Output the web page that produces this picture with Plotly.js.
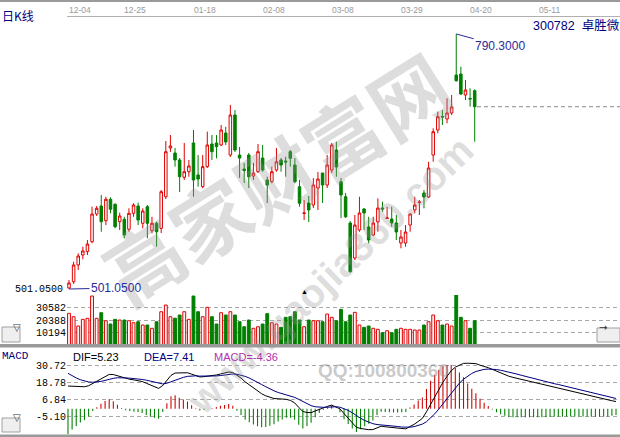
<!DOCTYPE html>
<html><head><meta charset="utf-8">
<script src="https://cdn.plot.ly/plotly-3.0.1.min.js"></script>
<style>html,body{margin:0;padding:0;background:#fff}#chart{width:620px;height:437px}</style>
</head><body><div id="chart"></div>
<script>
// ---- Daily K-line data (index = trading day) ----
const opens=[502.2,509.3,528.3,539.6,543.4,554.7,586.1,595.2,578.5,602.8,
597.1,577.4,580.1,568.8,586.9,595.2,575.6,594.4,567.2,575.6,
569.9,605.7,661.0,655.3,647.4,627.8,634.1,666.7,630.4,617.1,
639.8,665.5,666.7,664.4,678.0,653.0,698.4,653.0,637.2,653.0,
629.2,634.1,649.6,624.7,622.8,636.0,647.4,646.2,656.8,641.7,
617.1,586.7,598.6,596.3,615.6,632.6,619.0,636.0,658.7,622.8,
605.7,575.9,536.2,568.0,591.8,571.4,562.3,577.1,592.9,581.0,
580.4,575.9,553.2,553.2,573.6,590.7,599.2,609.9,605.4,653.0,
681.4,696.7,693.9,700.7,743.8,744.9,721.1,717.1,726.0];
const highs=[511.3,532.0,541.5,549.0,556.6,594.4,595.2,607.7,605.7,605.0,
598.3,587.6,583.0,592.6,598.3,599.0,592.6,596.3,583.0,577.4,
613.3,668.9,675.7,661.0,649.6,666.7,647.4,681.4,653.0,653.0,
679.5,675.7,675.7,687.1,685.1,709.8,704.1,662.1,644.0,655.3,
644.0,665.5,664.4,628.4,639.8,661.0,649.6,651.1,658.7,649.6,
624.7,602.0,606.5,626.9,633.8,632.6,653.0,666.7,668.1,626.9,
609.9,578.2,585.0,605.7,592.9,583.0,583.0,603.9,600.1,594.4,
594.4,585.0,568.0,573.6,586.9,605.7,602.0,613.3,645.4,683.3,
702.2,704.1,717.4,721.1,790.3,753.2,738.1,728.7,727.6];
const lows=[501.05,506.7,522.6,534.7,539.6,552.9,583.9,566.0,573.6,586.9,
569.9,568.0,558.6,566.0,583.0,573.6,569.9,558.6,564.2,549.0,
564.6,603.1,656.5,639.8,611.1,624.7,628.4,605.7,617.1,615.3,
638.3,647.4,649.3,663.3,664.4,650.8,656.5,627.0,621.3,615.6,
624.7,632.6,634.1,598.6,620.9,634.1,634.1,628.4,639.8,620.9,
594.4,579.3,577.1,592.9,590.7,598.6,615.6,632.6,628.4,581.6,
581.6,519.5,533.9,566.0,568.0,552.9,561.2,566.0,588.7,580.4,
571.7,556.6,547.2,549.0,566.0,586.9,585.0,592.6,604.3,645.4,
677.7,687.1,689.0,698.4,736.2,721.1,715.4,707.8,668.1];
const closes=[507.9,528.3,538.5,544.2,552.1,586.1,592.6,577.4,602.8,591.5,
571.7,583.9,562.3,586.9,596.3,579.3,589.5,575.6,575.6,566.0,
611.4,656.8,663.3,647.4,628.4,634.1,640.6,624.7,625.8,639.8,
664.4,656.8,662.5,681.4,667.8,698.4,658.7,649.6,635.5,628.4,
632.6,656.8,636.0,619.0,634.1,645.4,641.7,645.1,649.3,622.8,
598.3,587.3,590.7,619.0,625.8,619.0,641.7,664.4,639.4,607.7,
583.0,520.7,573.6,587.3,587.3,556.6,575.9,592.9,591.8,581.6,
575.9,565.7,560.0,565.7,586.1,596.3,599.7,605.4,638.3,679.5,
696.5,696.1,700.7,707.5,737.3,722.2,726.8,716.6,707.8];
const volumes=[26070,23230,15460,21050,21890,40530,21890,26570,19890,17130,
21050,20470,20470,19890,18220,19050,16290,16290,13540,19050,
27410,33010,23230,22000,24650,27410,21000,40530,27410,23230,
31080,23230,17130,26570,24650,27410,24650,19050,14870,20470,
13540,14870,17130,25800,18220,17130,14370,22730,23230,27410,
20470,14870,20470,19890,19890,19050,25490,22730,19890,29410,
19050,24650,26900,16290,14370,15460,13540,12700,9860,11530,
9860,12700,13540,12700,12700,12120,12120,16290,19050,24650,
19890,16290,17130,15460,41360,22730,19890,13540,19890];
const volTicks=[10194,20388,30582,40776];
const dateLabels=['12-04','12-25','01-18','02-08','03-08','03-29','04-20','05-11'];
const dateLabelIdx=[0,12,27,42,57,72,87,102];
const stockName='300782  卓胜微';

// ---- MACD panel data ----
const dif=[16.3,16.2,16.0,15.9,15.8,16.5,18.2,19.8,21.4,23.1,
24.6,24.5,23.7,22.6,21.6,21.1,20.7,20.3,19.5,18.3,
17.0,15.8,14.6,16.7,20.3,23.9,25.6,25.7,25.8,25.8,
24.8,23.8,22.8,23.0,23.3,23.5,24.2,24.9,25.6,26.3,
26.0,24.0,22.0,19.3,17.2,15.0,12.8,10.8,9.3,8.2,
7.4,7.2,7.0,6.8,6.0,4.3,1.1,-1.9,-2.6,-2.7,
-1.5,-0.3,0.8,1.8,2.7,1.5,0.0,-3.4,-6.5,-9.8,
-13.2,-14.0,-14.5,-14.9,-14.8,-13.4,-12.4,-12.8,-13.2,-13.6,
-13.9,-14.2,-14.3,-12.6,-11.1,-9.0,-6.8,-2.1,3.3,8.6,
13.9,19.0,23.3,27.2,29.8,31.4,32.5,32.6,32.5,32.3,
31.2,30.4,29.4,28.2,26.9,25.7,24.5,23.3,22.5,21.8,
21.0,20.2,19.5,18.7,18.0,17.2,16.5,15.9,15.2,14.6,
13.9,13.3,12.6,12.0,11.3,10.6,9.9,9.2,8.5,7.8,
7.1,6.5,5.8,5.23];
const dea=[25.4,23.6,22.1,20.8,19.8,19.2,19.0,19.2,19.6,20.3,
21.2,21.8,22.2,22.3,22.1,21.9,21.7,21.4,21.0,20.5,
19.8,19.0,18.1,17.8,18.3,19.4,20.7,21.7,22.5,23.2,
23.5,23.6,23.4,23.3,23.3,23.3,23.5,23.8,24.2,24.6,
24.9,24.7,24.2,23.2,22.0,20.6,19.0,17.4,15.8,14.2,
12.9,11.7,10.8,10.0,9.2,8.2,6.8,5.1,3.5,2.3,
1.5,1.2,1.1,1.2,1.5,1.5,1.2,0.3,-1.1,-2.8,
-4.9,-6.7,-8.3,-9.6,-10.6,-11.2,-11.4,-11.7,-12.0,-12.3,
-12.6,-13.0,-13.2,-13.1,-12.7,-12.0,-10.9,-9.2,-6.7,-3.6,
-0.1,3.7,7.6,11.5,15.2,18.4,21.2,23.5,25.3,26.7,
27.6,28.2,28.4,28.4,28.1,27.6,27.0,26.2,25.5,24.8,
24.0,23.2,22.5,21.7,21.0,20.2,19.5,18.8,18.0,17.4,
16.7,16.0,15.3,14.7,14.0,13.3,12.6,12.0,11.3,10.6,
9.9,9.2,8.3,7.41];
const macdHist=[-18.2,-14.8,-12.2,-9.8,-8.0,-5.4,-1.6,1.2,3.6,5.6,
6.8,5.4,3.0,0.6,-1.0,-1.6,-2.0,-2.2,-3.0,-4.4,
-5.6,-6.4,-7.0,-2.2,4.0,9.0,9.8,8.0,6.6,5.2,
2.6,0.4,-1.2,-0.6,0.1,0.4,1.4,2.2,2.8,3.4,
2.2,-1.4,-4.4,-7.8,-9.6,-11.2,-12.4,-13.2,-13.0,-12.0,
-11.0,-9.0,-7.6,-6.4,-6.4,-7.8,-11.4,-14.0,-12.2,-10.0,
-6.0,-3.0,-0.6,1.2,2.4,0.0,-2.4,-7.4,-10.8,-14.0,
-16.6,-14.6,-12.4,-10.6,-8.4,-4.4,-2.0,-2.2,-2.4,-2.6,
-2.6,-2.4,-2.2,1.0,3.2,6.0,8.2,14.2,20.0,24.4,
28.0,30.6,31.4,31.4,29.2,26.0,22.6,18.2,14.4,11.2,
7.2,4.4,2.0,-0.4,-2.4,-3.8,-5.0,-5.8,-6.0,-6.0,
-6.0,-6.0,-6.0,-6.0,-6.0,-6.0,-6.0,-5.8,-5.6,-5.6,
-5.6,-5.4,-5.4,-5.4,-5.4,-5.4,-5.4,-5.6,-5.6,-5.6,
-5.6,-5.4,-5.0,-4.36];
const macdTicks=[-5.10,6.84,18.78,30.72];
const macdLabels={dif:'DIF=5.23',dea:'DEA=7.41',macd:'MACD=-4.36'};

// ---- build ----
const RED='#e00000', GREEN='#007f00', NAVY='#000080';
const idx=opens.map((_,i)=>i);
const jdx=dif.map((_,j)=>j);
const up=closes.map((c,i)=>c>=opens[i]);
const W=620,H=437;
const px=v=>v/W, py=v=>1-v/H;
const MONO='Liberation Mono, DejaVu Sans Mono, monospace';
const SANS='Liberation Sans, Arial, sans-serif';
const CJK='Noto Sans CJK SC, sans-serif';
const WM='rgba(150,150,150,0.32)';

const traces=[
 {type:'candlestick',x:idx,open:opens,high:highs,low:lows,close:closes,xaxis:'x',yaxis:'y',
  increasing:{line:{color:RED,width:1},fillcolor:'#ffffff'},
  decreasing:{line:{color:GREEN,width:1},fillcolor:GREEN},whiskerwidth:0,hoverinfo:'skip'},
 {type:'bar',x:idx,y:volumes,xaxis:'x',yaxis:'y2',width:0.62,
  marker:{color:up.map(u=>u?'#fff4f4':GREEN),line:{color:up.map(u=>u?RED:GREEN),width:1}},hoverinfo:'skip'},
 {type:'bar',x:jdx,y:macdHist,xaxis:'x2',yaxis:'y3',width:0.26,
  marker:{color:macdHist.map(v=>v>=0?'#cc0000':'#007f00'),line:{width:0}},hoverinfo:'skip'},
 {type:'scatter',mode:'lines',x:jdx,y:dif,xaxis:'x2',yaxis:'y3',line:{color:'#000000',width:1},hoverinfo:'skip'},
 {type:'scatter',mode:'lines',x:jdx,y:dea,xaxis:'x2',yaxis:'y3',line:{color:NAVY,width:1},hoverinfo:'skip'}
];

const iMax=highs.indexOf(Math.max(...highs));
const iMin=lows.indexOf(Math.min(...lows));
const lastClose=closes[closes.length-1];

const ann=[];
// watermark
ann.push({xref:'paper',yref:'paper',x:px(275),y:py(176),text:'<b>高家财富网</b>',showarrow:false,textangle:-32,
  font:{family:CJK,size:78,color:WM}});
ann.push({xref:'paper',yref:'paper',x:px(330),y:py(275),text:'<b>www.gaojia360.com</b>',showarrow:false,textangle:-44,
  font:{family:SANS,size:40,color:WM}});
ann.push({xref:'paper',yref:'paper',x:px(451),y:py(383),text:'<b>QQ:100800360</b>',showarrow:false,
  font:{family:SANS,size:19,color:'rgba(150,150,150,0.5)'}});
// dates
dateLabels.forEach((t,k)=>ann.push({xref:'x',yref:'paper',x:dateLabelIdx[k]-0.2,y:py(10.5),xanchor:'left',yanchor:'middle',
  text:t,showarrow:false,borderpad:0,font:{family:SANS,size:8.5,color:'#9a9a9a'}}));
ann.push({xref:'paper',yref:'paper',x:0,y:py(16),xanchor:'left',yanchor:'middle',text:'日K线',showarrow:false,
  font:{family:CJK,size:12,color:NAVY}});
ann.push({xref:'paper',yref:'paper',x:px(531),y:py(25.5),xanchor:'left',yanchor:'middle',text:stockName,showarrow:false,
  font:{family:SANS+', '+CJK,size:12.5,color:NAVY}});
// max / min markers
ann.push({xref:'x',yref:'y',x:iMax,y:highs[iMax],text:highs[iMax].toFixed(4),showarrow:true,arrowhead:0,arrowwidth:1,
  arrowcolor:'#2a2a9a',ax:44,ay:12,standoff:0,font:{family:SANS,size:12,color:'#2a2a9a'}});
ann.push({xref:'x',yref:'y',x:iMin,y:lows[iMin],text:lows[iMin].toFixed(4),showarrow:true,arrowhead:0,arrowwidth:1,
  arrowcolor:'#2a2a9a',ax:47,ay:-1,standoff:0,font:{family:SANS,size:12,color:'#2a2a9a'}});
ann.push({xref:'paper',yref:'y',x:px(65),y:lows[iMin],xanchor:'right',yanchor:'middle',text:lows[iMin].toFixed(4),showarrow:false,
  font:{family:MONO,size:10,color:'#000'}});
// small marker
ann.push({xref:'paper',yref:'paper',x:px(304),y:py(297.5),text:'▲',showarrow:false,font:{size:7,color:'#000'}});
// MACD header
ann.push({xref:'paper',yref:'paper',x:0,y:py(356),xanchor:'left',yanchor:'middle',text:'MACD',showarrow:false,
  font:{family:MONO,size:11,color:NAVY}});
ann.push({xref:'paper',yref:'paper',x:px(71),y:py(356.5),xanchor:'left',yanchor:'middle',text:macdLabels.dif,showarrow:false,
  font:{family:SANS,size:11,color:'#000'}});
ann.push({xref:'paper',yref:'paper',x:px(142),y:py(356.5),xanchor:'left',yanchor:'middle',text:macdLabels.dea,showarrow:false,
  font:{family:SANS,size:11,color:NAVY}});
ann.push({xref:'paper',yref:'paper',x:px(212),y:py(356.5),xanchor:'left',yanchor:'middle',text:macdLabels.macd,showarrow:false,
  font:{family:SANS,size:11,color:'#b030b0'}});
// buttons
[[11,334.5,'▽'],[11,425,'▽'],[608.5,335,'→']].forEach(b=>ann.push({xref:'paper',yref:'paper',x:px(b[0]),y:py(b[1]),
  text:b[2],showarrow:false,font:{family:'DejaVu Sans',size:10,color:'#333'}}));

const shapes=[
 {type:'rect',xref:'paper',yref:'paper',x0:0,x1:1,y0:py(2),y1:py(0),fillcolor:'#9a9a9a',line:{width:0}},
 {type:'line',xref:'paper',yref:'paper',x0:px(67),x1:1,y0:py(16.5),y1:py(16.5),line:{color:'#b0b0b0',width:1}},
 {type:'line',xref:'x',yref:'y',x0:closes.length-0.5,x1:119.52,y0:lastClose,y1:lastClose,line:{color:'#888',width:1,dash:'4px,3px'}},
 {type:'rect',xref:'paper',yref:'paper',x0:0,x1:1,y0:py(347.5),y1:py(344),fillcolor:'#9a9a9a',line:{width:0}},
 {type:'rect',xref:'paper',yref:'paper',x0:0,x1:1,y0:py(437),y1:py(434.5),fillcolor:'#9a9a9a',line:{width:0}},
 {type:'rect',xref:'paper',yref:'paper',x0:px(2),x1:px(20),y0:py(342),y1:py(327),fillcolor:'#efefef',line:{color:'#a0a0a0',width:1}},
 {type:'rect',xref:'paper',yref:'paper',x0:px(2),x1:px(20),y0:py(432),y1:py(418),fillcolor:'#efefef',line:{color:'#a0a0a0',width:1}},
 {type:'rect',xref:'paper',yref:'paper',x0:px(597),x1:px(620),y0:py(342),y1:py(328),fillcolor:'#efefef',line:{color:'#a0a0a0',width:1}}
];

const hid={showgrid:false,zeroline:false,showticklabels:false,showline:false,ticks:'',fixedrange:true};
const layout={
 width:W,height:H,margin:{l:0,r:0,t:0,b:0},paper_bgcolor:'#fff',plot_bgcolor:'#fff',showlegend:false,
 boxgap:0.22,
 xaxis:Object.assign({},hid,{domain:[px(67),1],range:[-0.434,119.52],anchor:'y',rangeslider:{visible:false}}),
 yaxis:Object.assign({},hid,{domain:[py(293),py(18)],range:[496.51,808.44],anchor:'x'}),
 yaxis2:Object.assign({},hid,{domain:[py(344.5),py(295)],range:[0,41400],anchor:'x',
   showgrid:true,gridcolor:'#a8a8a8',gridwidth:1,griddash:'4px,3px',tickvals:volTicks,
   ticktext:volTicks.map((v,k)=>k<volTicks.length-1?String(v):''),showticklabels:true,
   tickfont:{family:MONO,size:10,color:'#000'}}),
 xaxis2:Object.assign({},hid,{domain:[px(67),1],range:[-0.24,133.97],anchor:'y3'}),
 yaxis3:Object.assign({},hid,{domain:[py(436),py(358)],range:[-19.39,36.33],anchor:'x2',
   showgrid:true,gridcolor:'#a8a8a8',gridwidth:1,griddash:'4px,3px',tickvals:macdTicks,
   ticktext:macdTicks.map(v=>v.toFixed(2)),showticklabels:true,tickfont:{family:MONO,size:10,color:'#000'}}),
 annotations:ann,shapes:shapes
};
Plotly.newPlot('chart',traces,layout,{staticPlot:true,displayModeBar:false});
</script></body></html>
